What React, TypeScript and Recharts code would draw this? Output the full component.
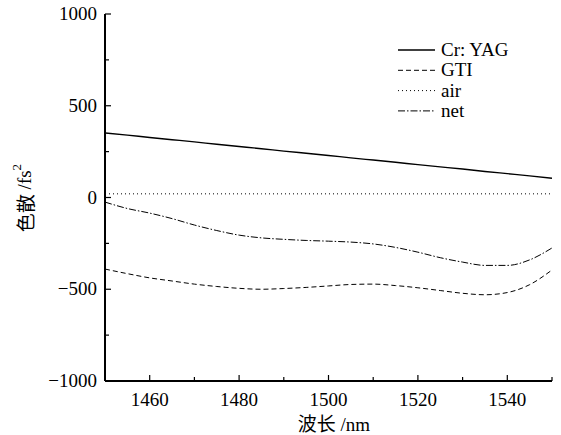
import { LineChart, Line, XAxis, YAxis, Legend } from "recharts";

const wavelength = [1450, 1455, 1460, 1465, 1470, 1475, 1480, 1485, 1490, 1495, 1500, 1505, 1510, 1515, 1520, 1525, 1530, 1535, 1540, 1545, 1550];
const crYag = [352, 340, 327, 315, 303, 290, 278, 266, 253, 241, 229, 216, 204, 192, 179, 167, 155, 142, 130, 118, 105];
const gti = [-390, -415, -438, -455, -472, -485, -495, -500, -496, -490, -482, -474, -472, -480, -492, -507, -522, -530, -518, -475, -395];
const air = [20, 20, 20, 20, 20, 20, 20, 20, 20, 20, 20, 20, 20, 20, 20, 20, 20, 20, 20, 20, 20];
const net = [-25, -60, -85, -115, -150, -180, -205, -220, -228, -234, -238, -243, -253, -272, -298, -328, -352, -370, -370, -340, -275];

const xTicks = [1450, 1460, 1470, 1480, 1490, 1500, 1510, 1520, 1530, 1540, 1550];
const xLabels = [1460, 1480, 1500, 1520, 1540];
const yTicks = [-1000, -750, -500, -250, 0, 250, 500, 750, 1000];
const yLabels = [-1000, -500, 0, 500, 1000];

const series = [
  { key: "crYag", name: "Cr: YAG", dash: "", width: 1.4 },
  { key: "gti", name: "GTI", dash: "5 3", width: 1 },
  { key: "air", name: "air", dash: "1 3", width: 1 },
  { key: "net", name: "net", dash: "7 2 1.5 2", width: 1 },
];

const data = wavelength.map((w, i) => ({
  w,
  crYag: crYag[i],
  gti: gti[i],
  air: air[i],
  net: net[i],
}));

const serif = { fontFamily: "Liberation Serif, DejaVu Serif, serif" };
const cjk = { fontFamily: "Noto Sans CJK SC, sans-serif" };

function XTick(props: any) {
  const { x, y, payload } = props;
  const major = xLabels.includes(payload.value);
  return (
    <g>
      <line x1={x} y1={y} x2={x} y2={y - (major ? 6 : 4)} stroke="#000" strokeWidth={1.2} />
      {major && (
        <text x={x} y={y + 25} textAnchor="middle" style={serif} fontSize={19} fill="#000">
          {payload.value}
        </text>
      )}
    </g>
  );
}

function YTick(props: any) {
  const { x, y, payload } = props;
  const major = yLabels.includes(payload.value);
  const label = payload.value < 0 ? "\u2212" + Math.abs(payload.value) : String(payload.value);
  return (
    <g>
      <line x1={x} y1={y} x2={x + (major ? 6 : 4)} y2={y} stroke="#000" strokeWidth={1.2} />
      {major && (
        <text x={x - 8} y={y + 6} textAnchor="end" style={serif} fontSize={19} fill="#000">
          {label}
        </text>
      )}
    </g>
  );
}

function LegendBox() {
  return (
    <svg width={160} height={90}>
      {series.map((s, i) => {
        const cy = 12 + i * 20.3;
        return (
          <g key={s.key}>
            <line x1={2} x2={39} y1={cy} y2={cy} stroke="#000" strokeWidth={s.width} strokeDasharray={s.dash} />
            <text x={45} y={cy + 6} style={serif} fontSize={19} fill="#000">
              {s.name}
            </text>
          </g>
        );
      })}
    </svg>
  );
}

export default function App() {
  return (
    <div style={{ position: "absolute", left: 0, top: 0, width: 561, height: 435, background: "#fff" }}>
      <LineChart width={561} height={435} data={data} margin={{ top: 14, right: 9, left: 0, bottom: 24 }}>
        <XAxis
          dataKey="w"
          type="number"
          domain={[1450, 1550]}
          ticks={xTicks}
          tick={<XTick />}
          tickLine={false}
          tickSize={0}
          tickMargin={0}
          height={30}
          axisLine={{ stroke: "#000", strokeWidth: 2 }}
          interval={0}
          label={{
            content: () => (
              <text x={334} y={431} textAnchor="middle" fontSize={19} fill="#000">
                <tspan style={cjk}>波长</tspan>
                <tspan style={serif}> /nm</tspan>
              </text>
            ),
          }}
        />
        <XAxis xAxisId="top" orientation="top" dataKey="w" type="number" domain={[1450, 1550]} tick={false} tickLine={false} height={0} axisLine={{ stroke: "#000", strokeWidth: 1.5 }} />
        <YAxis
          type="number"
          domain={[-1000, 1000]}
          ticks={yTicks}
          tick={<YTick />}
          tickLine={false}
          tickSize={0}
          tickMargin={0}
          width={105}
          interval={0}
          axisLine={{ stroke: "#000", strokeWidth: 2 }}
          label={{
            content: () => (
              <text x={24} y={198} transform="rotate(-90, 24, 198)" textAnchor="middle" dominantBaseline="central" fontSize={19} fill="#000">
                <tspan style={cjk}>色散</tspan>
                <tspan style={serif}> /fs</tspan>
                <tspan style={serif} fontSize={13} dy={-8}>2</tspan>
              </text>
            ),
          }}
        />
        <YAxis yAxisId="right" orientation="right" type="number" domain={[-1000, 1000]} tick={false} tickLine={false} width={0} axisLine={{ stroke: "#000", strokeWidth: 1.5 }} />
        <Legend
          layout="vertical"
          align="center"
          verticalAlign="middle"
          content={() => <LegendBox />}
          wrapperStyle={{ left: 396, top: 38, width: 160, height: 90 }}
        />
        {series.map((s) => (
          <Line
            key={s.key}
            dataKey={s.key}
            name={s.name}
            type="monotone"
            stroke="#000"
            strokeWidth={s.width}
            strokeDasharray={s.dash || undefined}
            dot={false}
            activeDot={false}
            isAnimationActive={false}
          />
        ))}
      </LineChart>
    </div>
  );
}
